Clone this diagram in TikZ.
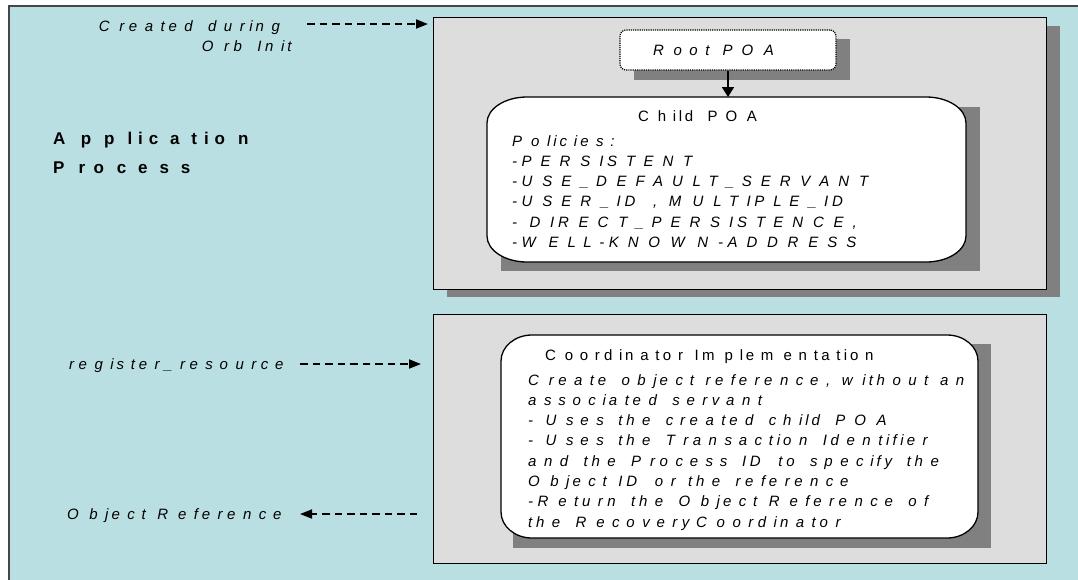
\documentclass[tikz,border=0pt]{standalone}
\usepackage{fontspec}
\setmainfont{Liberation Sans}
\usetikzlibrary{arrows.meta}
\definecolor{bgteal}{RGB}{186,223,226}
\definecolor{boxgray}{RGB}{221,221,221}
\definecolor{shadowgray}{RGB}{128,128,128}
\definecolor{framegray}{RGB}{70,70,70}
\ExplSyntaxOn
\dim_new:N \l__spt_dim
\box_new:N \l__spt_box
\NewDocumentCommand \spacedtext { O{1.9} m }
  {
    \str_map_inline:nn {#2}
      {
        \hbox_set:Nn \l__spt_box {##1}
        \dim_set:Nn \l__spt_dim { #1 \box_wd:N \l__spt_box }
        \hbox_to_wd:nn { \l__spt_dim } { ##1 \hfil }
      }
  }
\ExplSyntaxOff
\begin{document}
\begin{tikzpicture}[x=1pt,y=-1pt,
  graybox/.style={draw=black, line width=1.3pt, fill=boxgray, inner sep=0pt, anchor=north west},
  shade/.style={fill=shadowgray},
  region/.style={inner sep=0pt, anchor=north west},
  itxt/.style={font=\fontsize{15}{20.3}\selectfont\itshape, inner sep=0pt},
  utxt/.style={font=\fontsize{15}{20.3}\selectfont, inner sep=0pt},
  btxt/.style={font=\fontsize{17}{29}\selectfont\bfseries, inner sep=0pt},
  dasharrow/.style={dash pattern=on 7.5pt off 5pt, line width=1.8pt, -{Triangle[length=12pt,width=9pt]}},
  rootbox/.style={draw=black, densely dotted, line width=1.2pt, fill=white, rounded corners=6pt,
    minimum width=216pt, minimum height=40pt, text width=150pt, align=left, inner xsep=33pt,
    font=\fontsize{15}{20.3}\selectfont\itshape}
]
\useasboundingbox (0,0) rectangle (1078,579);
\fill[white] (0,0) rectangle (1078,579);
\begin{scope}
\clip (0,0) rectangle (1078,579);
\draw[fill=bgteal, draw=framegray, line width=1.5pt] (9,6) rectangle (1090,590);
\end{scope}

% upper box (POAs)
\fill[shade] (447,26) rectangle (1060,297);
\node[graybox, minimum width=613pt, minimum height=272pt] (poabox) at (433,17) {};

% child POA
\fill[shade] (501,107) rectangle (980,271);
\node[region, minimum width=479pt, minimum height=165pt] (child) at (487,97) {};
\draw[fill=white, line width=1.3pt] (527,97) -- (926,97)
  .. controls (948.1,97) and (966,108.65) .. (966,123) -- (966,236)
  .. controls (966,250.35) and (948.1,262) .. (926,262) -- (527,262)
  .. controls (504.9,262) and (487,250.35) .. (487,236) -- (487,123)
  .. controls (487,108.65) and (504.9,97) .. (527,97) -- cycle;

% root POA
\fill[shade] (634,39) rectangle (850,80);
\node[rootbox] (root) at (728,50) {\spacedtext{Root POA}};
\draw[line width=1.8pt, -{Triangle[length=10pt,width=12pt]}] (root.south) -- (root.south |- child.north);

\node[utxt, anchor=base west] (childtitle) at (638,121) {\spacedtext[1.81]{Child POA}};
\node[itxt, anchor=base west, align=left] (policies) at (512,247.5)
  {\spacedtext{Policies:}\\ \spacedtext{-PERSISTENT}\\ \spacedtext{-USE_DEFAULT_SERVANT}\\
   \spacedtext{-USER_ID , MULTIPLE_ID}\\ \spacedtext{- DIRECT_PERSISTENCE,}\\ \spacedtext{-WELL-KNOWN-ADDRESS}};

% lower box (coordinator)
\node[graybox, minimum width=613pt, minimum height=249pt] (coordbox) at (433,314) {};
\fill[shade] (513,344) rectangle (991,548);
\node[region, minimum width=477pt, minimum height=203pt] (coord) at (501,335) {};
\draw[fill=white, line width=1.3pt] (532,335) -- (947,335)
  .. controls (964.1,335) and (978,346.65) .. (978,361) -- (978,512)
  .. controls (978,526.35) and (964.1,538) .. (947,538) -- (532,538)
  .. controls (514.9,538) and (501,526.35) .. (501,512) -- (501,361)
  .. controls (501,346.65) and (514.9,335) .. (532,335) -- cycle;
\node[utxt, anchor=base west] (coordtitle) at (545,360) {\spacedtext[1.81]{Coordinator Implementation}};
\node[itxt, anchor=base west, align=left] (coordtext) at (528,527.1)
  {\spacedtext{Create object reference, without an}\\ \spacedtext{associated servant}\\
   \spacedtext{- Uses the created child POA}\\ \spacedtext{- Uses the Transaction Identifier}\\
   \spacedtext{and the Process ID to specify the}\\ \spacedtext{Object ID or the reference}\\
   \spacedtext{-Return the Object Reference of}\\ \spacedtext{the RecoveryCoordinator}};

% left labels
\node[btxt, anchor=base west, align=left] (app) at (53,173)
  {\spacedtext[2.25]{Application}\\ \spacedtext[2.25]{Process}};
\node[itxt, anchor=base east, align=right] (created) at (295.5,51.3)
  {\spacedtext{Created during }\\ \spacedtext{Orb Init}};
\node[itxt, anchor=base west] (register) at (69,369) {\spacedtext{register_resource}};
\node[itxt, anchor=base west] (objref) at (67,519) {\spacedtext{Object Reference}};

% dashed connectors
\coordinate (a1s) at (307,24);
\coordinate (a1e) at (428,24);
\coordinate (a2s) at (300,364);
\coordinate (a2e) at (421,364);
\coordinate (a3s) at (417,514);
\coordinate (a3e) at (300,514);
\draw[dasharrow] (a1s) -- (a1e);
\draw[dasharrow] (a2s) -- (a2e);
\draw[dasharrow] (a3s) -- (a3e);
\end{tikzpicture}
\end{document}
